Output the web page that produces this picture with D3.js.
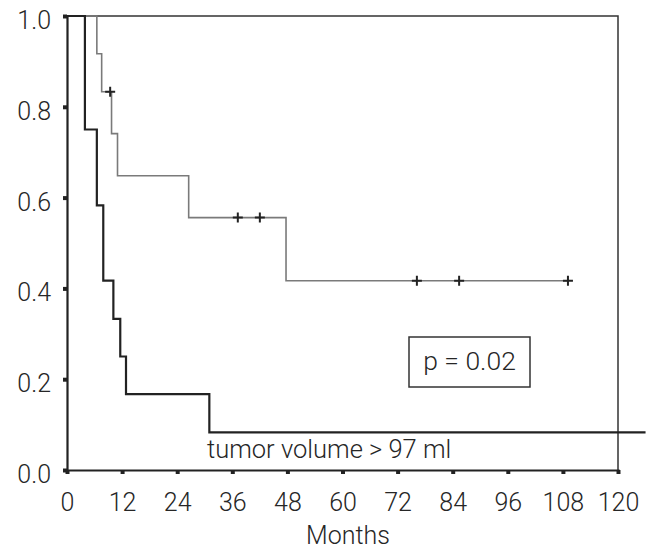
<!DOCTYPE html>
<html>
<head>
<meta charset="utf-8">
<script src="https://cdn.jsdelivr.net/npm/d3@7"></script>
<style>
  body { margin: 0; background: #fff; }
  svg text { font-family: Roboto, "Liberation Sans", sans-serif; font-weight: 300; fill: #262626; }
</style>
</head>
<body>
<svg id="chart" width="652" height="549"></svg>
<script>
// survival steps: [month, survival]
var bigTumor = [[0, 1], [3.9, 0.75], [6.5, 0.583], [7.9, 0.417], [10.1, 0.333], [11.6, 0.25], [12.85, 0.167], [31.0, 0.083]];
var bigTumorEnd = 126;
var smallTumor = [[0, 1], [6.5, 0.917], [7.55, 0.833], [9.7, 0.741], [11.0, 0.648], [26.5, 0.556], [47.7, 0.417]];
var smallTumorEnd = 109.1;
var censored = [[9.4, 0.833], [37.2, 0.556], [42.0, 0.556], [76.2, 0.417], [85.4, 0.417], [109.1, 0.417]];
var xTicks = [0, 12, 24, 36, 48, 60, 72, 84, 96, 108, 120];
var yTicks = [0, 0.2, 0.4, 0.6, 0.8, 1.0];

var svg = d3.select("#chart");
var x = d3.scaleLinear().domain([0, 120]).range([67, 618]);
var y = d3.scaleLinear().domain([0, 1]).range([470, 16]);

var line = d3.line()
  .x(function(d) { return x(d[0]); })
  .y(function(d) { return y(d[1]); })
  .curve(d3.curveStepAfter);

// frame top + right
svg.append("path")
  .attr("d", "M" + x(0) + "," + y(1) + "H" + x(120) + "V" + y(0))
  .attr("fill", "none").attr("stroke", "#333").attr("stroke-width", 1.5);

svg.append("path")
  .datum(smallTumor.concat([[smallTumorEnd, smallTumor[smallTumor.length - 1][1]]]))
  .attr("d", line)
  .attr("fill", "none").attr("stroke", "#7a7a7a").attr("stroke-width", 1.6);

svg.append("path")
  .datum(bigTumor.concat([[bigTumorEnd, bigTumor[bigTumor.length - 1][1]]]))
  .attr("d", line)
  .attr("fill", "none").attr("stroke", "#222").attr("stroke-width", 2.2);

svg.selectAll(".cens").data(censored).enter().append("path")
  .attr("class", "cens")
  .attr("d", function(d) {
    var cx = x(d[0]), cy = y(d[1]);
    return "M" + (cx - 5) + "," + cy + "H" + (cx + 5) + "M" + cx + "," + (cy - 5) + "V" + (cy + 5);
  })
  .attr("stroke", "#222").attr("stroke-width", 2);

// axes
var yAxis = svg.append("g")
  .attr("transform", "translate(" + x(0) + ",0)")
  .call(d3.axisLeft(y).tickValues(yTicks).tickFormat(d3.format(".1f")).tickSize(4).tickPadding(12));
var xAxis = svg.append("g")
  .attr("transform", "translate(0," + y(0) + ")")
  .call(d3.axisBottom(x).tickValues(xTicks).tickSize(4).tickPadding(19));

[yAxis, xAxis].forEach(function(g) {
  g.select(".domain").attr("stroke", "#222").attr("stroke-width", 2.2);
  g.selectAll(".tick line").attr("stroke", "#222").attr("stroke-width", 4);
  g.selectAll(".tick text").attr("font-size", 25).attr("fill", "#262626");
});
yAxis.selectAll(".tick text").attr("dy", "0.5em");

svg.append("text")
  .attr("x", 348).attr("y", 544)
  .attr("text-anchor", "middle").attr("font-size", 25)
  .text("Months");

svg.append("text")
  .attr("x", 207).attr("y", 458)
  .attr("font-size", 25.5)
  .text("tumor volume > 97 ml");

// p value box
svg.append("rect")
  .attr("x", 409).attr("y", 337).attr("width", 121).attr("height", 50)
  .attr("fill", "#fff").attr("stroke", "#333").attr("stroke-width", 1.5);
svg.append("text")
  .attr("x", 469.5).attr("y", 370)
  .attr("text-anchor", "middle").attr("font-size", 26.5)
  .text("p = 0.02");
</script>
</body>
</html>
